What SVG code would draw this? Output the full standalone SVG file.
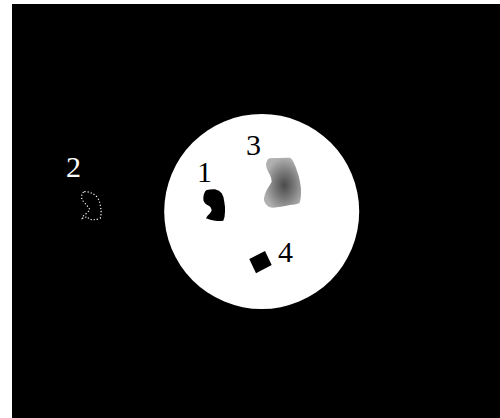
<svg xmlns="http://www.w3.org/2000/svg" width="500" height="418" viewBox="0 0 500 418">
<style>
.lbl{font-family:"Liberation Serif","Times New Roman",serif;font-size:30px}
.dark{fill:#000}
.light{fill:#fff}
</style>
<defs>
<radialGradient id="g3" cx="0.55" cy="0.55" r="0.55">
<stop offset="0" stop-color="#4a4a4a"/>
<stop offset="0.5" stop-color="#7a7a7a"/>
<stop offset="1" stop-color="#b0b0b0"/>
</radialGradient>
</defs>
<rect x="0" y="0" width="500" height="418" fill="#fff"/>
<rect x="12" y="4" width="488" height="414" fill="#000"/>
<circle cx="261.7" cy="211.5" r="97.5" fill="#fff"/>
<g id="node2">
<path d="M84.3,191.7 Q92.3,191.5 97.7,197.7 Q100.3,203 100.3,205.7 Q101.5,212 101,214.3 L100.3,218.3 Q96,219.8 93.3,219.7 Q89,219.5 87.7,217 Q85,217 82.3,218.3 Q83,215.5 86,213.7 Q88.5,211.5 89.7,209.3 Q87.5,206 85,203.3 Q81.5,200 81.7,197.3 Q81.5,193 84.3,191.7 Z" fill="none" stroke="#fff" stroke-width="1.2" stroke-dasharray="1.2 2"/>
<text class="lbl light" x="66" y="177">2</text>
</g>
<g id="node1">
<path d="M206.7,190 Q211,189 215,189.3 Q219.5,190.5 221.7,193.3 Q224,197 224.3,201.7 Q225.3,207 225,211.7 Q225,217 223.3,220.7 Q219,221.2 215,220.7 Q210,220 206,218.3 Q207.5,215.5 209.3,214 Q211.5,212 211.7,210 Q211,207 209.3,206 Q206.5,205 205,203.3 Q203,201 203.3,198.3 Q203.3,195 204.3,193.3 Q205,191 206.7,190 Z" class="dark"/>
<text class="lbl dark" x="197" y="182">1</text>
</g>
<g id="node3">
<path d="M269.3,158.3 Q280,157.5 290,157.7 Q292.5,159 293.3,161.7 Q296,167 297.3,171.7 Q299,176 300,181.7 Q301.5,189 301,195 Q300.5,201 299.3,203.3 Q295,205 290,205 Q280,207 273.3,207.7 Q268.5,207.5 266.7,205 Q263.5,201.5 264,198.3 Q265,193 266.7,190 Q270,185 271.7,181.7 Q271.5,178 270,175 Q267.5,171 266.7,168.3 Q265.5,163.5 266.7,161.7 Q267.5,159 269.3,158.3 Z" fill="url(#g3)"/>
<text class="lbl dark" x="246" y="155">3</text>
</g>
<g id="node4">
<polygon points="249.3,259 265,251 271.7,265 256,273.3" class="dark"/>
<text class="lbl dark" x="278" y="262">4</text>
</g>
<g id="connectors"/>
</svg>
